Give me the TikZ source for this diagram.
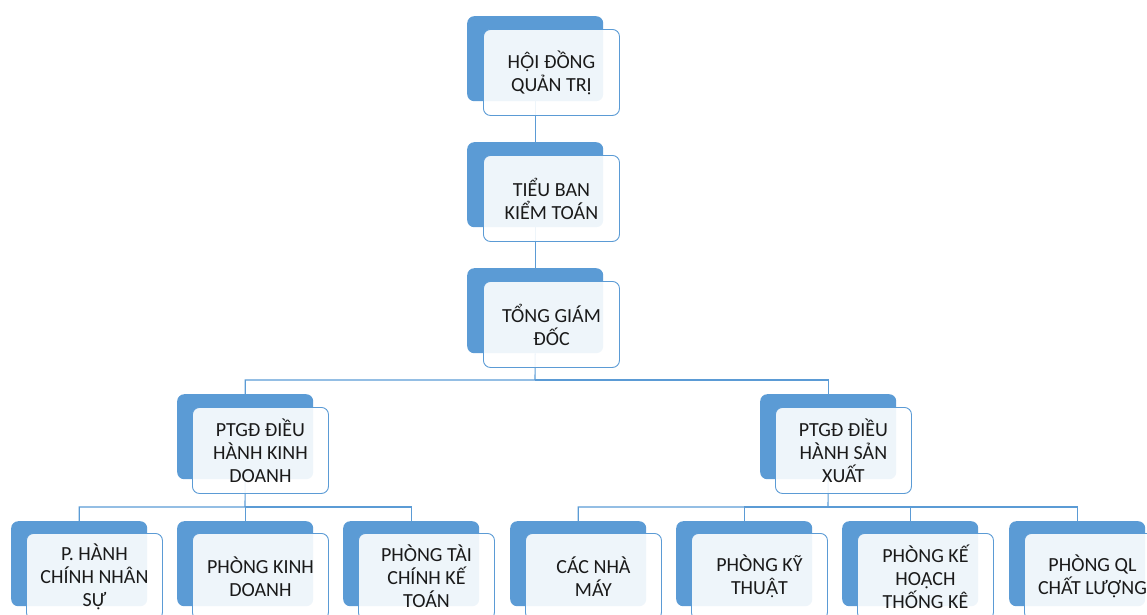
\documentclass[tikz,border=0pt]{standalone}
\usepackage{fontspec}
\setmainfont{Carlito}
% Carlito places no circumflex over a dot-below vowel, so those two letters come from Lato
\newfontfamily\latofont[Scale=MatchUppercase]{Lato}
\newcommand{\Ohd}{{\latofont Ộ}}
\newcommand{\Ahd}{{\latofont Ậ}}
\definecolor{accent}{HTML}{5B9BD5}
\definecolor{ink}{HTML}{1A1A1A}
\tikzset{
  backbox/.style={fill=accent, draw=none, rounded corners=7pt, minimum width=136pt,
    minimum height=85pt, inner sep=0pt, anchor=north west},
  frontbox/.style={fill=white, fill opacity=0.9, text opacity=1, draw=accent, line width=0.9pt,
    rounded corners=7pt, minimum width=136pt, minimum height=86pt, inner sep=0pt,
    anchor=north west, align=center, text=ink, font=\fontsize{20}{23}\selectfont},
  link/.style={draw=accent, line width=1.1pt}
}
\begin{document}
\begin{tikzpicture}[x=1pt, y=-1pt]
\useasboundingbox (0,0) rectangle (1147,614);
\clip (0,0) rectangle (1147,614);
% back plates
\node[backbox] (b1) at (467,16) {};
\node[backbox] (b2) at (467,142) {};
\node[backbox] (b3) at (467,268) {};
\node[backbox] (b4) at (177,394) {};
\node[backbox] (b5) at (760,394) {};
\node[backbox] (b6) at (11,521) {};
\node[backbox] (b7) at (177,521) {};
\node[backbox] (b8) at (343,521) {};
\node[backbox] (b9) at (510,521) {};
\node[backbox] (b10) at (676,521) {};
\node[backbox] (b11) at (842,521) {};
\node[backbox] (b12) at (1009,521) {};
% connectors
\coordinate (busA) at (535,380);
\coordinate (busB) at (245,507);
\coordinate (busC) at (828,507);
\draw[link] (b1.south) -- (b2.north);
\draw[link] (b2.south) -- (b3.north);
\draw[link] (b3.south) -- (busA) -| (b4.north);
\draw[link] (busA) -| (b5.north);
\draw[link] (b4.south) -- (busB) -| (b6.north);
\draw[link] (busB) -| (b7.north);
\draw[link] (busB) -| (b8.north);
\draw[link] (b5.south) -- (busC) -| (b9.north);
\draw[link] (busC) -| (b10.north);
\draw[link] (busC) -| (b11.north);
\draw[link] (busC) -| (b12.north);
% front cards with labels
\node[frontbox] (f1) at (483,29) {H\Ohd I ĐỒNG\\QUẢN TRỊ};
\node[frontbox] (f2) at (483,155) {TIỂU BAN\\KIỂM TOÁN};
\node[frontbox] (f3) at (483,281) {TỔNG GIÁM\\ĐỐC};
\node[frontbox] (f4) at (192,407) {PTGĐ ĐIỀU\\HÀNH KINH\\DOANH};
\node[frontbox] (f5) at (775,407) {PTGĐ ĐIỀU\\HÀNH SẢN\\XUẤT};
\node[frontbox] (f6) at (26,533) {P. HÀNH\\CHÍNH NHÂN\\SỰ};
\node[frontbox] (f7) at (192,533) {PHÒNG KINH\\DOANH};
\node[frontbox] (f8) at (358,533) {PHÒNG TÀI\\CHÍNH KẾ\\TOÁN};
\node[frontbox] (f9) at (525,533) {CÁC NHÀ\\MÁY};
\node[frontbox] (f10) at (691,533) {PHÒNG KỸ\\THU\Ahd T};
\node[frontbox] (f11) at (857,533) {PHÒNG KẾ\\HOẠCH\\THỐNG KÊ};
\node[frontbox] (f12) at (1024,533) {PHÒNG QL\\CHẤT LƯỢNG};
\end{tikzpicture}
\end{document}
